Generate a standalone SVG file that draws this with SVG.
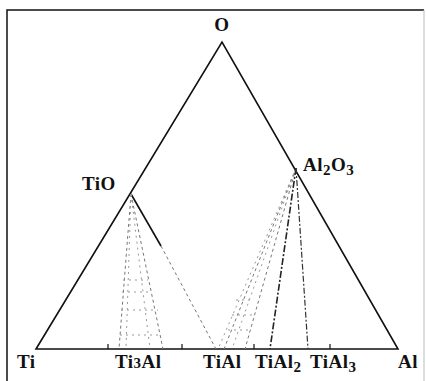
<svg xmlns="http://www.w3.org/2000/svg" width="426" height="381" viewBox="0 0 426 381">
<style>
.lbl{font-family:"Liberation Serif","Times New Roman",serif;font-weight:bold;font-size:19px;letter-spacing:0.5px;fill:#111}
.edge{stroke:#111;stroke-width:1.6;fill:none}
.dot{stroke:#777;stroke-width:1;fill:none;stroke-dasharray:3 3}
.dot2{stroke:#999;stroke-width:1;fill:none;stroke-dasharray:2 4}
.dd{stroke:#222;stroke-width:1.6;fill:none;stroke-dasharray:7 2 2 2}
.dd2{stroke:#333;stroke-width:1.2;fill:none;stroke-dasharray:6 2 2 2}
</style>
<rect width="426" height="381" fill="#fff"/>
<g id="frame">
<path d="M7 381 V10 H424" stroke="#111" stroke-width="1.5" fill="none"/>
<path d="M424 10 V381" stroke="#bbb" stroke-width="1" fill="none"/>
</g>
<g id="connectors">
<path class="edge" d="M36 349 L222 42 L398 349 Z"/>
<path d="M108 349v-5M182 349v-5M254 349v-5M330 349v-5" stroke="#111" stroke-width="1.2"/>
<path class="edge" d="M131 194 L161 246"/>
<path class="dot" d="M161 246 L216 349"/>
<path class="dot" d="M131 194 L119 349"/>
<path class="dot" d="M131 194 L163 349"/>
<path class="dot2" d="M131 194 L126 349"/>
<path class="dot2" d="M131 194 L150 349"/>
<path class="dot2" d="M121 310 H158 M122 292 H152 M123 280 H148 M120 335 H160"/>
<path class="dot" d="M296 168 L224 349"/>
<path class="dot" d="M296 168 L245 349"/>
<path class="dot2" d="M296 168 L232 349"/>
<path class="dot2" d="M296 168 L218 349"/>
<path class="dot2" d="M228 330 H250 M232 315 H252 M236 300 H254"/>
<path class="dd" d="M296 168 L270 349"/>
<path class="dd2" d="M296 168 L308 349"/>
</g>
<g id="node-O"><text class="lbl" x="222" y="31" text-anchor="middle">O</text></g>
<g id="node-TiO"><text class="lbl" x="82" y="190">TiO</text></g>
<g id="node-Al2O3"><text class="lbl" x="303" y="171">Al<tspan font-size="15" dy="4">2</tspan><tspan dy="-4">O</tspan><tspan font-size="15" dy="4">3</tspan></text></g>
<g id="node-Ti"><text class="lbl" x="17" y="368">Ti</text></g>
<g id="node-Ti3Al"><text class="lbl" x="115" y="368">Ti<tspan font-size="15">3</tspan>Al</text></g>
<g id="node-TiAl"><text class="lbl" x="203" y="368">TiAl</text></g>
<g id="node-TiAl2"><text class="lbl" x="255" y="368">TiAl<tspan font-size="15" dy="4">2</tspan></text></g>
<g id="node-TiAl3"><text class="lbl" x="310" y="368">TiAl<tspan font-size="15" dy="4">3</tspan></text></g>
<g id="node-Al"><text class="lbl" x="398" y="368">Al</text></g>
</svg>
